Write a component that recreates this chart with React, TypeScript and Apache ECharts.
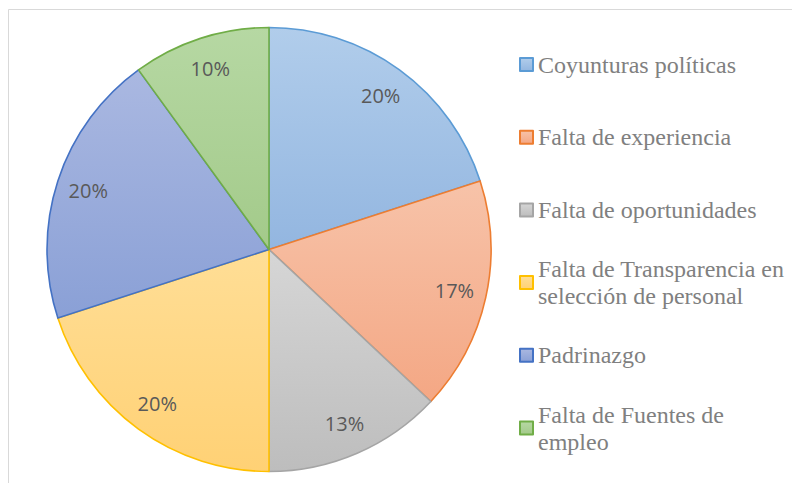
import React, { useEffect, useRef } from "react";
import * as echarts from "echarts";

const categories = [
  "Coyunturas políticas",
  "Falta de experiencia",
  "Falta de oportunidades",
  "Falta de Transparencia en selección de personal",
  "Padrinazgo",
  "Falta de Fuentes de empleo",
];
const legendLabels = [
  "Coyunturas políticas",
  "Falta de experiencia",
  "Falta de oportunidades",
  "Falta de Transparencia en\nselección de personal",
  "Padrinazgo",
  "Falta de Fuentes de\nempleo",
];
const values = [20, 17, 13, 20, 20, 10];
const topColors = ["#B1CDEB", "#F7C3A9", "#D6D6D6", "#FFDE96", "#AAB8E1", "#B6D8A3"];
const bottomColors = ["#93B6E0", "#F4A784", "#BDBDBD", "#FFD175", "#8AA0D6", "#A3CA8A"];
const borderColors = ["#5B9BD5", "#ED7D31", "#A5A5A5", "#FFC000", "#4472C4", "#70AD47"];
const legendCenters = [64.5, 137.2, 209.9, 282.6, 355.3, 428];

export default function App() {
  const ref = useRef<HTMLDivElement>(null);
  useEffect(() => {
    if (!ref.current) return;
    const chart = echarts.init(ref.current, null, { renderer: "svg" });
    const mainData = categories.map((name, i) => ({
      name,
      value: values[i],
      itemStyle: {
        color: new echarts.graphic.LinearGradient(0, 0, 0, 1, [
          { offset: 0, color: topColors[i] },
          { offset: 1, color: bottomColors[i] },
        ]),
        borderColor: borderColors[i],
        borderWidth: 1.6,
      },
    }));
    const labelData = categories.map((name, i) => ({ name, value: values[i] }));
    const legends = categories.map((name, i) => {
      const multi = legendLabels[i].indexOf("\n") >= 0;
      return {
        data: [name],
        orient: "vertical",
        left: 519,
        top: multi ? legendCenters[i] - 40.5 : legendCenters[i] - 13.5,
        padding: 0,
        itemWidth: 13,
        itemHeight: 13,
        icon: "rect",
        selectedMode: false,
        formatter: () => legendLabels[i],
        textStyle: {
          fontFamily: "'Liberation Serif', 'Times New Roman', serif",
          fontSize: 24,
          lineHeight: 27,
          color: "#808080",
          padding: multi ? [27, 0, 0, 0] : 0,
        },
      };
    });
    chart.setOption({
      animation: false,
      backgroundColor: "#ffffff",
      legend: legends,
      graphic: [
        {
          type: "rect",
          shape: { x: 8.5, y: 9.5, width: 900, height: 600 },
          style: { fill: "none", stroke: "#D9D9D9", lineWidth: 1 },
          silent: true,
        },
      ],
      series: [
        {
          type: "pie",
          name: "main",
          center: [269, 249.5],
          radius: 222,
          startAngle: 90,
          clockwise: true,
          avoidLabelOverlap: false,
          label: { show: false },
          labelLine: { show: false },
          emphasis: { disabled: true },
          data: mainData,
        },
        {
          type: "pie",
          name: "labels",
          center: [269, 249.5],
          radius: [152, 222],
          startAngle: 90,
          clockwise: true,
          silent: true,
          avoidLabelOverlap: false,
          itemStyle: { color: "rgba(0,0,0,0)", borderWidth: 0 },
          label: {
            show: true,
            position: "inside",
            formatter: "{d}%",
            fontFamily: "'Open Sans', sans-serif",
            fontSize: 20,
            color: "#595959",
          },
          labelLine: { show: false },
          emphasis: { disabled: true },
          data: labelData,
        },
      ],
    });
    return () => chart.dispose();
  }, []);
  return (
    <div
      ref={ref}
      style={{ position: "absolute", left: 0, top: 0, width: 792, height: 483 }}
    />
  );
}
